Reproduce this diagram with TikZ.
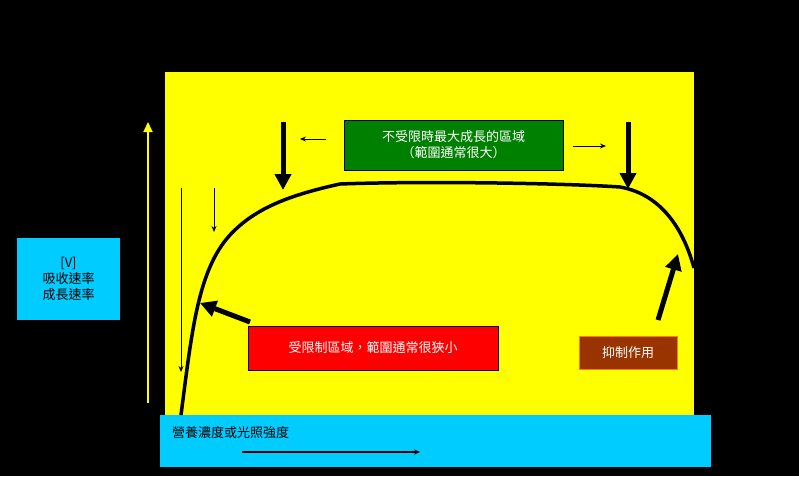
\documentclass[tikz,border=0pt]{standalone}
\usepackage{fontspec}
\newfontfamily\cjk{Noto Sans CJK TC}
\usetikzlibrary{arrows.meta}
\definecolor{ylw}{RGB}{255,255,0}
\definecolor{cyn}{RGB}{0,204,255}
\definecolor{grn}{RGB}{0,128,0}
\definecolor{brn}{RGB}{153,51,0}
\tikzset{
  lbl/.style={inner sep=0pt,font=\cjk\fontsize{13}{16}\selectfont},
  bigarrow/.style={line width=5pt,-{Triangle[length=16pt,width=16pt]}},
  thinarrow/.style={line width=0.8pt,-{Stealth[length=6pt,width=5pt]}}
}
\begin{document}
\begin{tikzpicture}[x=1pt,y=-1pt]
\useasboundingbox (0,0) rectangle (799,476);
\fill[black] (0,0) rectangle (799,476);
\fill[ylw] (165,72) rectangle (694,415);
\fill[cyn] (160,415) rectangle (711,467);
\node[lbl,anchor=west] (xl) at (172,433) {營養濃度或光照強度};
\coordinate (xa1) at (242,452); \coordinate (xa2) at (420,452);
\draw[thinarrow,line width=1.2pt] (xa1) -- (xa2);
\node[fill=cyn,minimum width=103pt,minimum height=82pt,align=center,lbl] (yl) at (68.5,279) {[V]\\吸收速率\\成長速率};
\coordinate (ya1) at (148,403); \coordinate (ya2) at (148,122);
\draw[line width=2pt,ylw,-{Triangle[length=10pt,width=9pt]}] (ya1) -- (ya2);
\coordinate (t1a) at (181,188); \coordinate (t1b) at (181,372);
\draw[thinarrow] (t1a) -- (t1b);
\coordinate (t2a) at (214,188); \coordinate (t2b) at (214,232);
\draw[thinarrow] (t2a) -- (t2b);
\draw[line width=3.5pt] (181,415) .. controls (192,330) and (198,270) .. (230,235)
  .. controls (255,208) and (290,195) .. (340,184)
  .. controls (420,181) and (560,183) .. (620,187)
  .. controls (665,195) and (685,235) .. (694,268);
\node[fill=grn,draw=black,minimum width=219pt,minimum height=50pt,align=center,lbl,text=white] (gb) at (453.5,145) {不受限時最大成長的區域\\（範圍通常很大）};
\coordinate (b1a) at (283,122); \coordinate (b1b) at (283,190);
\draw[bigarrow] (b1a) -- (b1b);
\coordinate (b2a) at (628,122); \coordinate (b2b) at (628,189);
\draw[bigarrow] (b2a) -- (b2b);
\coordinate (s1a) at (326,139); \coordinate (s1b) at (300,139);
\draw[thinarrow] (s1a) -- (s1b);
\coordinate (s2a) at (573,146); \coordinate (s2b) at (606,146);
\draw[thinarrow] (s2a) -- (s2b);
\node[fill=red,draw=black,minimum width=250pt,minimum height=44pt,lbl,text=white] (rb) at (373,348) {受限制區域，範圍通常很狹小};
\coordinate (r1) at (250,322); \coordinate (r2) at (200,303);
\draw[bigarrow] (r1) -- (r2);
\node[fill=brn,draw=orange,minimum width=98pt,minimum height=33pt,lbl,text=white] (bb) at (628,352.5) {抑制作用};
\coordinate (k1) at (658,320); \coordinate (k2) at (678,254);
\draw[bigarrow] (k1) -- (k2);
\end{tikzpicture}
\end{document}
